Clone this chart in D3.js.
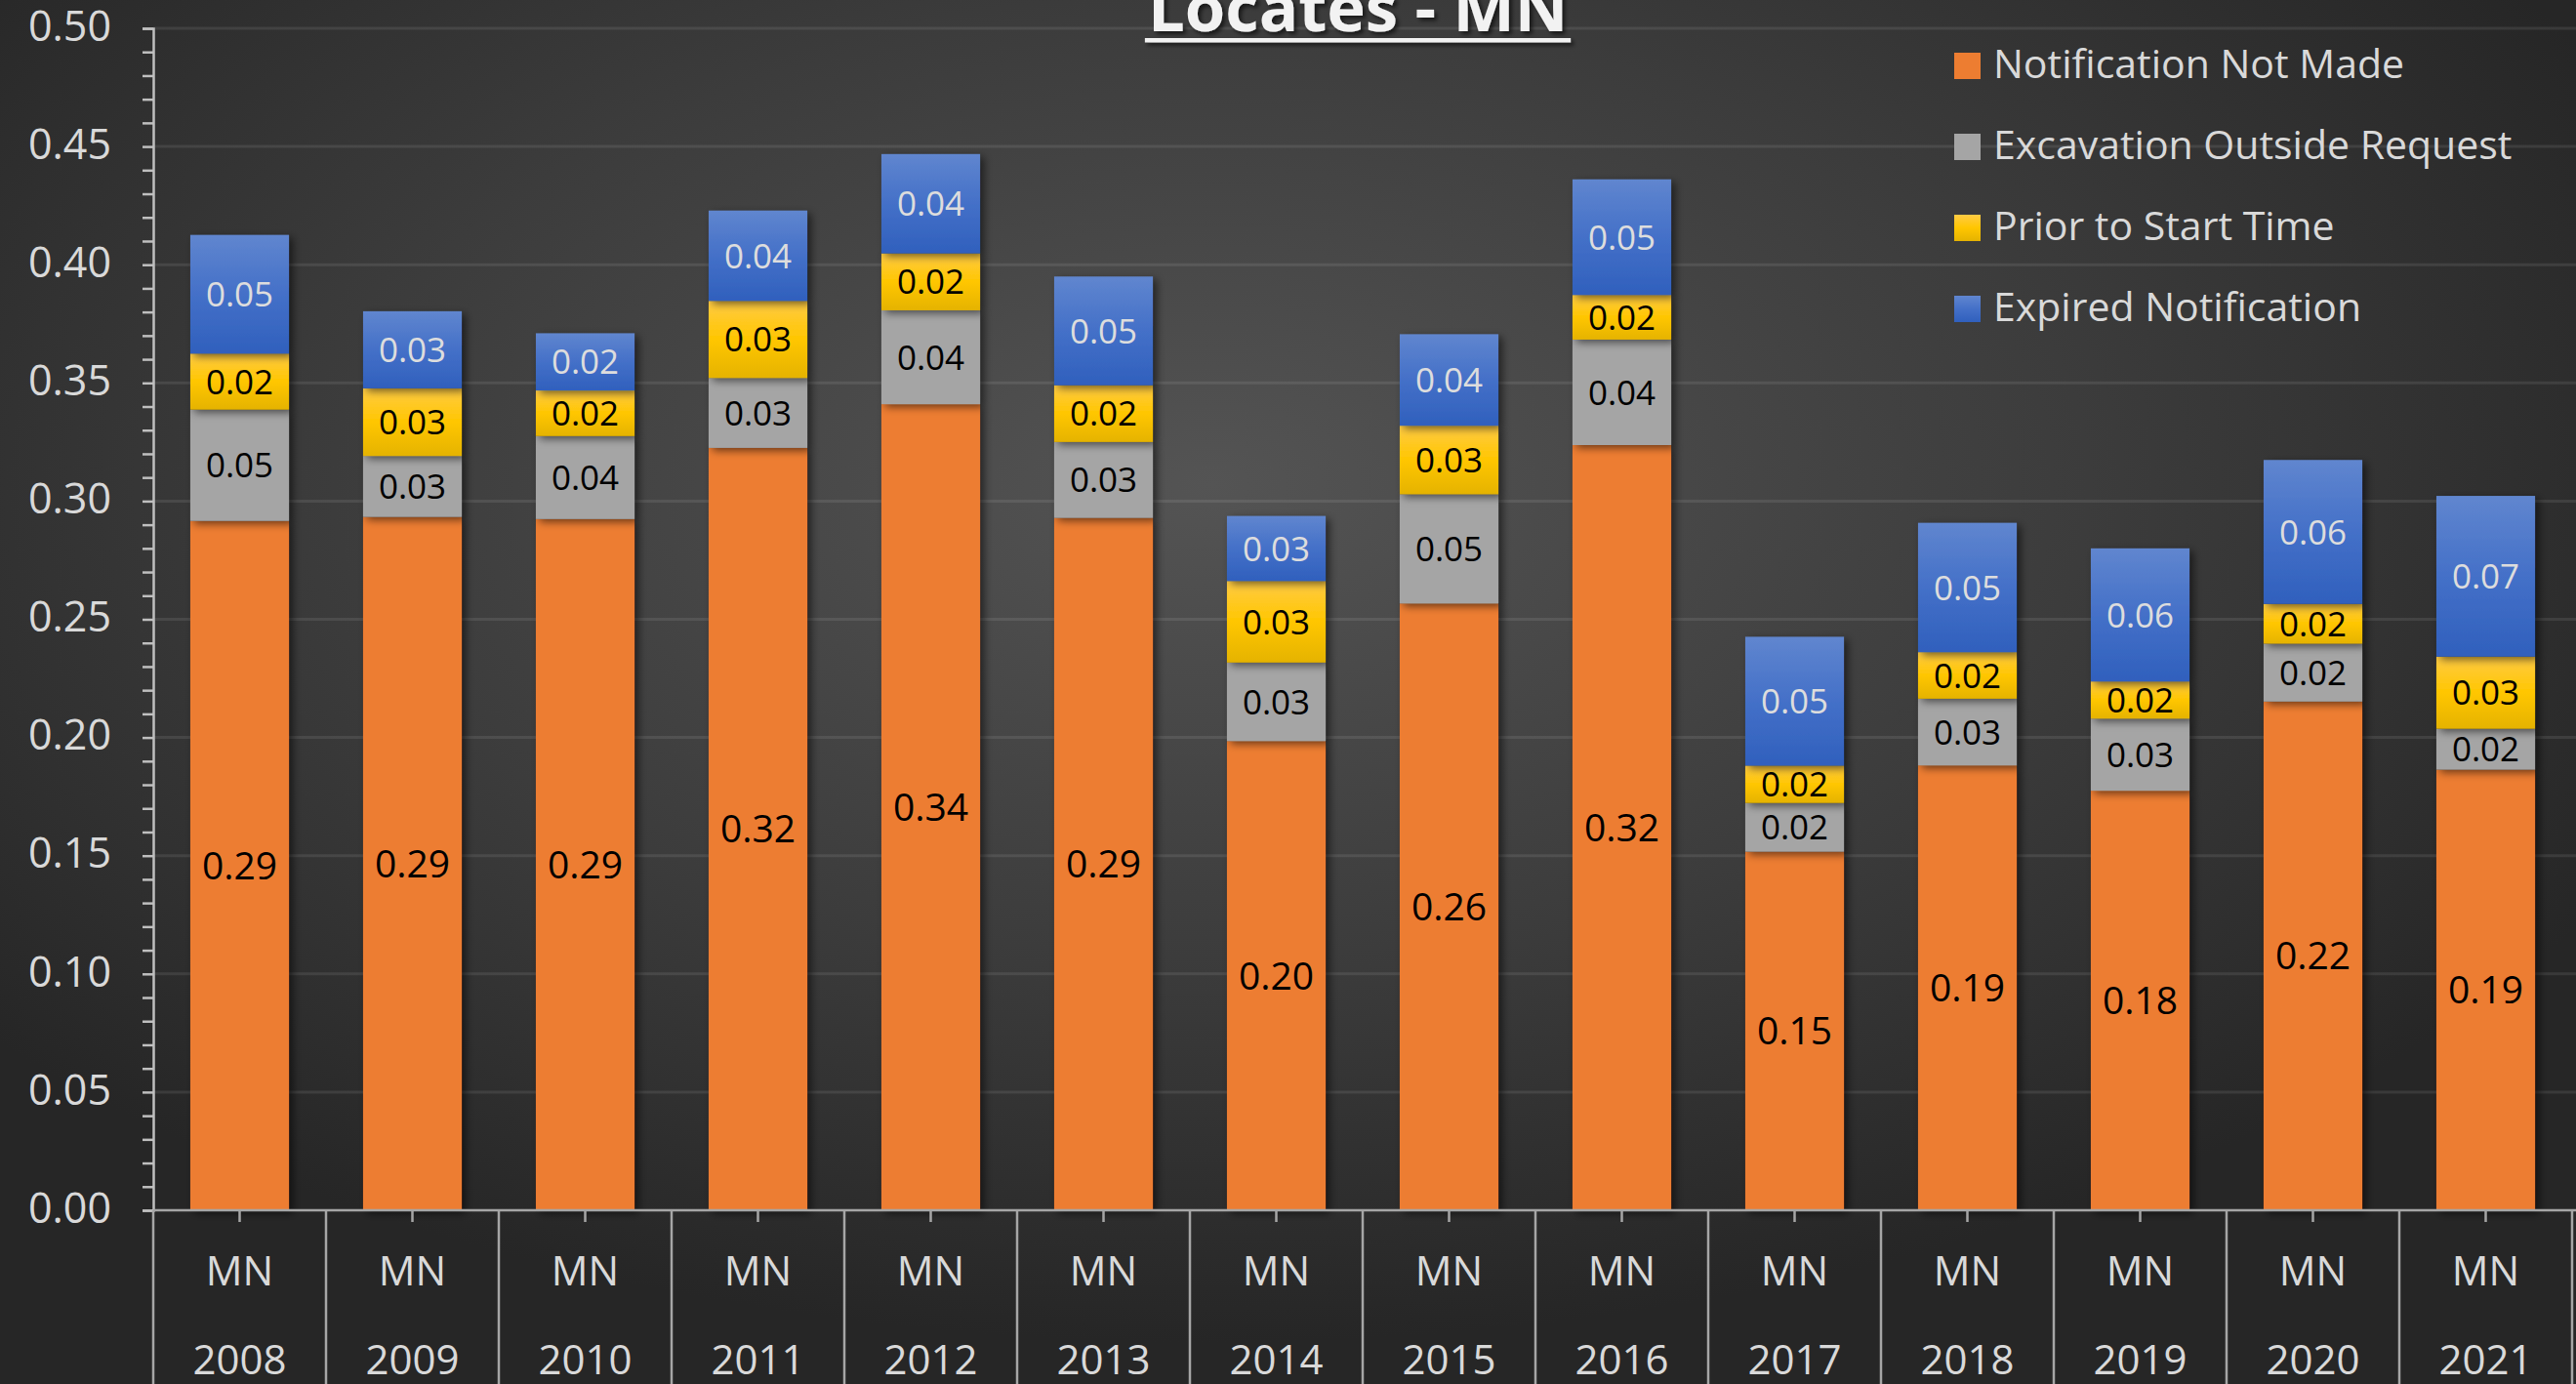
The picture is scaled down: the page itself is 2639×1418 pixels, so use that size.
<!DOCTYPE html>
<html><head><meta charset="utf-8">
<script src="https://cdn.jsdelivr.net/npm/d3@7"></script>
<style>
html,body{margin:0;padding:0;background:#2a2a2a;overflow:hidden}
svg{display:block}
text{font-family:"Open Sans","Noto Sans",sans-serif}
</style></head><body>
<svg id="chart" width="2639" height="1418"></svg>
<script>
// ---------- DATA ----------
const title = "Locates - MN";
const region = "MN";
const years = ["2008","2009","2010","2011","2012","2013","2014","2015","2016","2017","2018","2019","2020","2021"];
const seriesNames = ["Notification Not Made","Excavation Outside Request","Prior to Start Time","Expired Notification"];
const notificationNotMade      = [0.2916,0.2933,0.2924,0.3225,0.3410,0.2929,0.1985,0.2567,0.3237,0.1517,0.1882,0.1775,0.2152,0.1864];
const excavationOutsideRequest = [0.0471,0.0258,0.0351,0.0296,0.0397,0.0321,0.0332,0.0462,0.0446,0.0206,0.0282,0.0305,0.0245,0.0173];
const priorToStartTime         = [0.0237,0.0286,0.0193,0.0326,0.0241,0.0240,0.0345,0.0290,0.0189,0.0158,0.0197,0.0157,0.0168,0.0305];
const expiredNotification      = [0.0502,0.0326,0.0242,0.0382,0.0420,0.0460,0.0275,0.0387,0.0489,0.0545,0.0547,0.0563,0.0609,0.0680];
const yTicks = [0,0.05,0.10,0.15,0.20,0.25,0.30,0.35,0.40,0.45,0.50];
const yMinorTicks = d3.range(0,51).map(i=>i/100);

// ---------- LAYOUT ----------
const W = 2639, H = 1418;
const plot = {left:157, right:2635, top:29, bottom:1240};
const svg = d3.select("#chart");
const defs = svg.append("defs");

// background
const bg = defs.append("radialGradient").attr("id","bg")
  .attr("cx","0.47").attr("cy","0.35").attr("r","0.62").attr("fx","0.47").attr("fy","0.35");
bg.append("stop").attr("offset","0").attr("stop-color","#545454");
bg.append("stop").attr("offset","0.55").attr("stop-color","#3c3c3c");
bg.append("stop").attr("offset","1").attr("stop-color","#262626");
svg.append("rect").attr("width",W).attr("height",H).attr("fill","url(#bg)");

const yellowGrad = defs.append("linearGradient").attr("id","gY").attr("x1",0).attr("y1",0).attr("x2",0).attr("y2",1);
yellowGrad.append("stop").attr("offset","0").attr("stop-color","#FFCB45");
yellowGrad.append("stop").attr("offset","0.5").attr("stop-color","#FFC600");
yellowGrad.append("stop").attr("offset","1").attr("stop-color","#E5B300");
const blueGrad = defs.append("linearGradient").attr("id","gB").attr("x1",0).attr("y1",0).attr("x2",0).attr("y2",1);
blueGrad.append("stop").attr("offset","0").attr("stop-color","#6086CF");
blueGrad.append("stop").attr("offset","0.5").attr("stop-color","#4470C8");
blueGrad.append("stop").attr("offset","1").attr("stop-color","#3060BD");

const shadow = defs.append("filter").attr("id","sh").attr("x","-20%").attr("y","-20%").attr("width","150%").attr("height","150%");
shadow.append("feDropShadow").attr("dx",4).attr("dy",3).attr("stdDeviation",4).attr("flood-color","#000").attr("flood-opacity",0.55);
const tshadow = defs.append("filter").attr("id","tsh").attr("x","-10%").attr("y","-50%").attr("width","120%").attr("height","200%");
tshadow.append("feDropShadow").attr("dx",3).attr("dy",3).attr("stdDeviation",2).attr("flood-color","#000").attr("flood-opacity",0.6);

const fills = ["#ED7D31","#A5A5A5","url(#gY)","url(#gB)"];
const labelColors = ["#000","#000","#000","#DDDDDD"];
const labelSizes = [39,35,35,35];

// scales
const x = d3.scaleBand().domain(years).range([plot.left, plot.right]).paddingInner(0.429).paddingOuter(0.2145);
const y = d3.scaleLinear().domain([0,0.5]).range([plot.bottom, plot.top]);

// gridlines
svg.append("g").selectAll("line").data(yTicks.slice(1)).join("line")
  .attr("x1",plot.left).attr("x2",W).attr("y1",d=>y(d)).attr("y2",d=>y(d))
  .attr("stroke","#ffffff").attr("stroke-opacity",0.09).attr("stroke-width",3);

// y axis minor ticks
const yMinor = svg.append("g").attr("transform",`translate(${plot.left},0)`)
  .call(d3.axisLeft(y).tickValues(yMinorTicks).tickSize(11).tickFormat(""));
yMinor.select(".domain").attr("stroke","#BFBFBF").attr("stroke-width",2.5);
yMinor.selectAll(".tick line").attr("stroke","#BFBFBF").attr("stroke-width",2.5);

// y axis labels
const yAx = svg.append("g").attr("transform",`translate(${plot.left},0)`)
  .call(d3.axisLeft(y).tickValues(yTicks).tickSize(0).tickPadding(43).tickFormat(d3.format(".2f")));
yAx.select(".domain").remove();
yAx.selectAll(".tick text").attr("fill","#D9D9D9").attr("font-size",43)
  .attr("font-family",'"Open Sans","Noto Sans",sans-serif').attr("dy","0.33em").attr("y",-2);

// stacked bars
const dataRows = years.map((yr,i)=>({year:yr, s0:notificationNotMade[i], s1:excavationOutsideRequest[i], s2:priorToStartTime[i], s3:expiredNotification[i]}));
const stack = d3.stack().keys(["s0","s1","s2","s3"])(dataRows);
const fmt = d3.format(".2f");

const barsG = svg.append("g");
stack.forEach((layer,k)=>{
  barsG.append("g").attr("filter","url(#sh)").selectAll("rect").data(layer).join("rect")
    .attr("x",d=>x(d.data.year)).attr("width",x.bandwidth())
    .attr("y",d=>y(d[1])).attr("height",d=>y(d[0])-y(d[1]))
    .attr("fill",fills[k]);
});
stack.forEach((layer,k)=>{
  svg.append("g").selectAll("text").data(layer).join("text")
    .attr("x",d=>x(d.data.year)+x.bandwidth()/2)
    .attr("y",d=>(y(d[0])+y(d[1]))/2)
    .attr("dy","0.36em").attr("text-anchor","middle")
    .attr("font-size",labelSizes[k]).attr("fill",labelColors[k])
    .text(d=>fmt(d[1]-d[0]));
});

// x axis
svg.append("line").attr("x1",plot.left).attr("x2",W).attr("y1",plot.bottom).attr("y2",plot.bottom)
  .attr("stroke","#A6A6A6").attr("stroke-width",2.5);
const xAx = svg.append("g").attr("transform",`translate(0,${plot.bottom})`)
  .call(d3.axisBottom(x).tickSize(12).tickFormat(""));
xAx.select(".domain").remove();
xAx.selectAll(".tick line").attr("stroke","#A6A6A6").attr("stroke-width",2.5);
// category separators
const bounds = d3.range(years.length+1).map(i=> i<years.length ? x(years[i]) - x.step()*x.paddingInner()/2 : plot.right);
svg.append("g").selectAll("line").data(bounds).join("line")
  .attr("x1",d=>d).attr("x2",d=>d).attr("y1",plot.bottom).attr("y2",H)
  .attr("stroke","#A6A6A6").attr("stroke-width",2.5);
const catG = svg.append("g");
catG.selectAll("text.mn").data(years).join("text").attr("class","mn")
  .attr("x",d=>x(d)+x.bandwidth()/2).attr("y",1317).attr("text-anchor","middle")
  .attr("font-size",42).attr("fill","#D9D9D9").text(region);
catG.selectAll("text.yr").data(years).join("text").attr("class","yr")
  .attr("x",d=>x(d)+x.bandwidth()/2).attr("y",1408).attr("text-anchor","middle")
  .attr("font-size",42).attr("fill","#D9D9D9").text(d=>d);

// title
const tG = svg.append("g").attr("filter","url(#tsh)");
const tText = tG.append("text").attr("x",1391).attr("y",32).attr("text-anchor","middle")
  .attr("font-size",67).attr("font-weight","bold").attr("fill","#F2F2F2").text(title);
const tw = tText.node().getComputedTextLength();
tG.append("rect").attr("x",1391-tw/2-3).attr("width",tw+6).attr("y",39).attr("height",4.5).attr("fill","#F2F2F2");

// legend
const lg = svg.append("g").attr("transform","translate(2002,54)");
seriesNames.forEach((name,i)=>{
  const row = lg.append("g").attr("transform",`translate(0,${i*83})`);
  row.append("rect").attr("width",27).attr("height",27).attr("fill",fills[i]);
  row.append("text").attr("x",40).attr("y",26).attr("font-size",41).attr("fill","#D9D9D9").text(name);
});
</script>
</body></html>
